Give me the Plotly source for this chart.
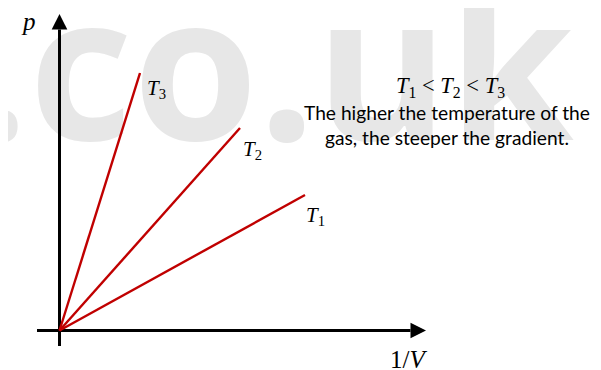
import plotly.graph_objects as go

# ---- data (arbitrary units: 1/V on x, p on y) ----
series_subscripts = ["1", "2", "3"]          # T1, T2, T3
inv_volume_end = [2.455, 1.805, 0.805]
pressure_end = [1.355, 2.025, 2.575]

x_axis_title = "1/<i>V</i>"
y_axis_title = "<i>p</i>"
relation_text = "<i>T</i><sub>1</sub> &lt; <i>T</i><sub>2</sub> &lt; <i>T</i><sub>3</sub>"
note_lines = ["The higher the temperature of the", "gas, the steeper the gradient."]
watermark = ".co.uk"

# ---- layout constants ----
# the page body has an 8px margin, so the figure is 8px smaller than the window
OFF = 8
W, H = 601 - OFF, 370 - OFF
X_RANGE = [-0.515, 5.415]
Y_RANGE = [-0.395, 3.225]
X_AXIS = [-0.225, 3.665]   # start, arrow tip
Y_AXIS = [-0.155, 3.165]
ARROW_LEN, ARROW_HALF = 0.155, 0.078
RED = "#c00000"
MATH_FONT = "Liberation Serif"
TEXT_FONT = "Lato"


def px_x(page_x):
    return (page_x - OFF) / W


def px_y(page_y):
    return 1 - (page_y - OFF) / H


fig = go.Figure()

# watermark (drawn first so everything sits on top of it)
fig.add_trace(go.Scatter(
    x=[2.13], y=[2.41], mode="text", text=[f"<b>{watermark}</b>"],
    textfont=dict(family="Open Sans", size=202, color="#e7e7e7"),
    cliponaxis=False, hoverinfo="skip", showlegend=False))

# axes
fig.add_trace(go.Scatter(x=[X_AXIS[0], X_AXIS[1] - ARROW_LEN], y=[0, 0], mode="lines",
                         line=dict(color="black", width=3), hoverinfo="skip", showlegend=False))
fig.add_trace(go.Scatter(x=[0, 0], y=[Y_AXIS[0], Y_AXIS[1] - ARROW_LEN], mode="lines",
                         line=dict(color="black", width=3), hoverinfo="skip", showlegend=False))

# isotherm lines
for sub, xe, ye in zip(series_subscripts, inv_volume_end, pressure_end):
    fig.add_trace(go.Scatter(x=[0, xe], y=[0, ye], mode="lines", name=f"T{sub}",
                             line=dict(color=RED, width=2.4), showlegend=False))

# arrowheads
xt, yt = X_AXIS[1], Y_AXIS[1]
fig.add_shape(type="path", layer="above", line=dict(width=0), fillcolor="black",
              path=f"M {xt} 0 L {xt - ARROW_LEN} {ARROW_HALF} L {xt - ARROW_LEN} {-ARROW_HALF} Z")
fig.add_shape(type="path", layer="above", line=dict(width=0), fillcolor="black",
              path=f"M 0 {yt} L {ARROW_HALF} {yt - ARROW_LEN} L {-ARROW_HALF} {yt - ARROW_LEN} Z")

# line labels (pixel offsets from line ends)
label_offsets = [(10, -21), (12, -22), (16, -16)]
for sub, xe, ye, (dx, dy) in zip(series_subscripts, inv_volume_end, pressure_end, label_offsets):
    fig.add_annotation(x=xe, y=ye, text=f"<i>T</i><sub>{sub}</sub>",
                       showarrow=False, xshift=dx, yshift=dy, xanchor="center", yanchor="middle",
                       font=dict(family=MATH_FONT, size=21, color="black"))

# axis titles
fig.add_annotation(x=0, y=Y_AXIS[1], text=y_axis_title, showarrow=False, xshift=-31, yshift=-7,
                   xanchor="center", yanchor="middle",
                   font=dict(family=MATH_FONT, size=25, color="black"))
fig.add_annotation(x=X_AXIS[1], y=0, text=x_axis_title, showarrow=False, xshift=-18, yshift=-29,
                   xanchor="center", yanchor="middle",
                   font=dict(family=MATH_FONT, size=25, color="black"))

# explanatory text
fig.add_annotation(xref="paper", yref="paper", x=px_x(450), y=px_y(87), text=relation_text,
                   showarrow=False, xanchor="center", yanchor="middle",
                   font=dict(family=MATH_FONT, size=22.5, color="black"))
fig.add_annotation(xref="paper", yref="paper", x=px_x(447), y=px_y(125),
                   text="<br>".join(note_lines), showarrow=False, align="center",
                   xanchor="center", yanchor="middle",
                   font=dict(family=TEXT_FONT, size=19.2, color="black"))

fig.update_layout(
    width=W, height=H, margin=dict(l=0, r=0, t=0, b=0),
    paper_bgcolor="white", plot_bgcolor="white",
    xaxis=dict(range=X_RANGE, visible=False, fixedrange=True),
    yaxis=dict(range=Y_RANGE, visible=False, fixedrange=True),
)

fig.write_html("out.html")
